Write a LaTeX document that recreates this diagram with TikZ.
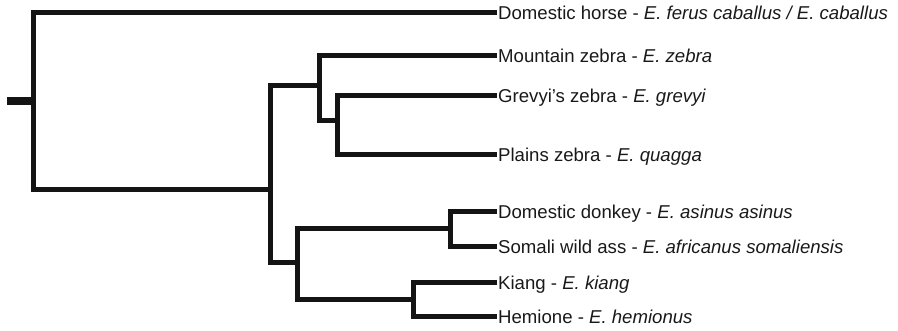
\documentclass[tikz,border=0pt]{standalone}
\usepackage{fontspec}
\setmainfont{Liberation Sans}
\begin{document}
\begin{tikzpicture}[x=1pt,y=-1pt,
  branch/.style={line width=5pt, line join=miter, color=black!92},
  stem/.style={line width=8.5pt, color=black!92},
  leaf/.style={anchor=west, inner sep=1pt, text height=13.4pt, text depth=0pt,
    font=\fontsize{18.6}{20}\selectfont, text=black!90}]
\useasboundingbox (0,0) rectangle (898,331);
% internal nodes
\coordinate (r0) at (7,101);
\coordinate (R) at (33,101);
\coordinate (A) at (270,190);
\coordinate (Z) at (319,86);
\coordinate (ZG) at (337,121);
\coordinate (As) at (297,263);
\coordinate (D) at (450,229);
\coordinate (K) at (413,300);
% leaves
\node[leaf] (h)  at (497,13)  {Domestic horse - \textit{E. ferus caballus / E. caballus}};
\node[leaf] (mz) at (497,56)  {Mountain zebra - \textit{E. zebra}};
\node[leaf] (gz) at (497,96)  {Grevyi’s zebra - \textit{E. grevyi}};
\node[leaf] (pz) at (497,155) {Plains zebra - \textit{E. quagga}};
\node[leaf] (dd) at (497,212) {Domestic donkey - \textit{E. asinus asinus}};
\node[leaf] (sw) at (497,247) {Somali wild ass - \textit{E. africanus somaliensis}};
\node[leaf] (ki) at (497,283) {Kiang - \textit{E. kiang}};
\node[leaf] (he) at (497,317) {Hemione - \textit{E. hemionus}};
% root stem
\draw[stem] (r0) -- (R);
% branches
\draw[branch] (h.west) -| (R) |- (A);
\draw[branch] (Z) -| (A) |- (As);
\draw[branch] (mz.west) -| (Z) |- (ZG);
\draw[branch] (gz.west) -| (ZG) |- (pz.west);
\draw[branch] (D) -| (As) |- (K);
\draw[branch] (dd.west) -| (D) |- (sw.west);
\draw[branch] (ki.west) -| (K) |- (he.west);
\end{tikzpicture}
\end{document}
